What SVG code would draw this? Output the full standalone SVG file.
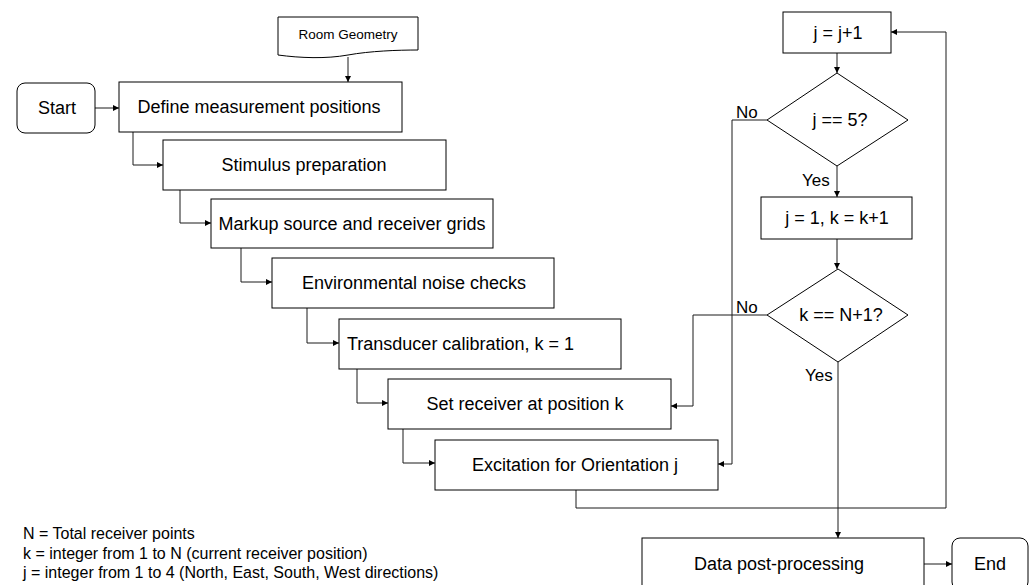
<svg xmlns="http://www.w3.org/2000/svg" width="1033" height="585" viewBox="0 0 1033 585">
<style>
.box{fill:#fff;stroke:#000;stroke-width:1}
.t{font-family:"Liberation Sans",Arial,sans-serif;font-size:18px;fill:#000;text-anchor:middle}
.s{font-family:"Liberation Sans",Arial,sans-serif;font-size:13.5px;fill:#000;text-anchor:middle}
.l{font-family:"Liberation Sans",Arial,sans-serif;font-size:16px;fill:#000}
.y{font-family:"Liberation Sans",Arial,sans-serif;font-size:17px;fill:#000}
.c{fill:none;stroke:#1a1a1a;stroke-width:1}
</style>
<defs>
<marker id="ah" markerWidth="8" markerHeight="8" refX="6" refY="3" orient="auto" markerUnits="userSpaceOnUse">
<path d="M0,0 L6,3 L0,6 Z" fill="#000"/>
</marker>
</defs>
<rect width="1033" height="585" fill="#fff"/>
<g id="connectors">
<path class="c" marker-end="url(#ah)" d="M348,57 V82"/>
<path class="c" marker-end="url(#ah)" d="M95,108 H119"/>
<path class="c" marker-end="url(#ah)" d="M133,132 V165 H163"/>
<path class="c" marker-end="url(#ah)" d="M180,190 V223 H211"/>
<path class="c" marker-end="url(#ah)" d="M241,248 V282 H272"/>
<path class="c" marker-end="url(#ah)" d="M307,308 V343 H339"/>
<path class="c" marker-end="url(#ah)" d="M357,369 V403 H388"/>
<path class="c" marker-end="url(#ah)" d="M403,429 V463 H435"/>
<path class="c" marker-end="url(#ah)" d="M576,490 V508 H946 V32 H891"/>
<path class="c" marker-end="url(#ah)" d="M837,53 V73"/>
<path class="c" marker-end="url(#ah)" d="M837,166 V197"/>
<path class="c" marker-end="url(#ah)" d="M837,239 V269"/>
<path class="c" marker-end="url(#ah)" d="M767,120 H732 V464 H718"/>
<path class="c" marker-end="url(#ah)" d="M767,315 H693 V406 H671"/>
<path class="c" marker-end="url(#ah)" d="M838,362 V538"/>
<path class="c" marker-end="url(#ah)" d="M924,564 H952"/>
</g>
<g id="room-geometry">
<path class="box" d="M278,17 H418 V50 C398,50 370,51 348,55 C326,59 300,58 278,55 Z"/>
<text class="s" x="348" y="39">Room Geometry</text>
</g>
<g id="start">
<rect class="box" x="17" y="83" width="78" height="50" rx="8"/>
<text class="t" x="57" y="114">Start</text>
</g>
<g id="define">
<rect class="box" x="119" y="82" width="283" height="50"/>
<text class="t" x="259" y="113">Define measurement positions</text>
</g>
<g id="stimulus">
<rect class="box" x="163" y="140" width="283" height="50"/>
<text class="t" x="304" y="171">Stimulus preparation</text>
</g>
<g id="markup">
<rect class="box" x="211" y="199" width="282" height="49"/>
<text class="t" x="352" y="230">Markup source and receiver grids</text>
</g>
<g id="environmental">
<rect class="box" x="272" y="258" width="282" height="50"/>
<text class="t" x="414" y="289">Environmental noise checks</text>
</g>
<g id="transducer">
<rect class="box" x="339" y="319" width="282" height="50"/>
<text class="t" x="347" y="350" style="text-anchor:start">Transducer calibration, k = 1</text>
</g>
<g id="set-receiver">
<rect class="box" x="388" y="379" width="283" height="50"/>
<text class="t" x="525" y="410">Set receiver at position k</text>
</g>
<g id="excitation">
<rect class="box" x="435" y="440" width="283" height="50"/>
<text class="t" x="575" y="471">Excitation for Orientation j</text>
</g>
<g id="j-increment">
<rect class="box" x="783" y="12" width="108" height="41"/>
<text class="t" x="838" y="39">j = j+1</text>
</g>
<g id="j-decision">
<polygon class="box" points="837,73 908,120 837,166 767,120"/>
<text class="t" x="840" y="126">j == 5?</text>
<text class="y" x="736" y="118">No</text>
<text class="y" x="802" y="186">Yes</text>
</g>
<g id="j-reset">
<rect class="box" x="761" y="197" width="151" height="42"/>
<text class="t" x="837" y="224">j = 1, k = k+1</text>
</g>
<g id="k-decision">
<polygon class="box" points="838,269 908,315 838,362 767,315"/>
<text class="t" x="841" y="321">k == N+1?</text>
<text class="y" x="736" y="313">No</text>
<text class="y" x="805" y="381">Yes</text>
</g>
<g id="post-processing">
<rect class="box" x="642" y="538" width="282" height="52"/>
<text class="t" x="779" y="570">Data post-processing</text>
</g>
<g id="end">
<rect class="box" x="952" y="538" width="76" height="52" rx="8"/>
<text class="t" x="990" y="570">End</text>
</g>
<g id="legend">
<text class="l" x="23" y="539">N = Total receiver points</text>
<text class="l" x="23" y="558.5">k = integer from 1 to N (current receiver position)</text>
<text class="l" x="23" y="578">j = integer from 1 to 4 (North, East, South, West directions)</text>
</g>
</svg>
